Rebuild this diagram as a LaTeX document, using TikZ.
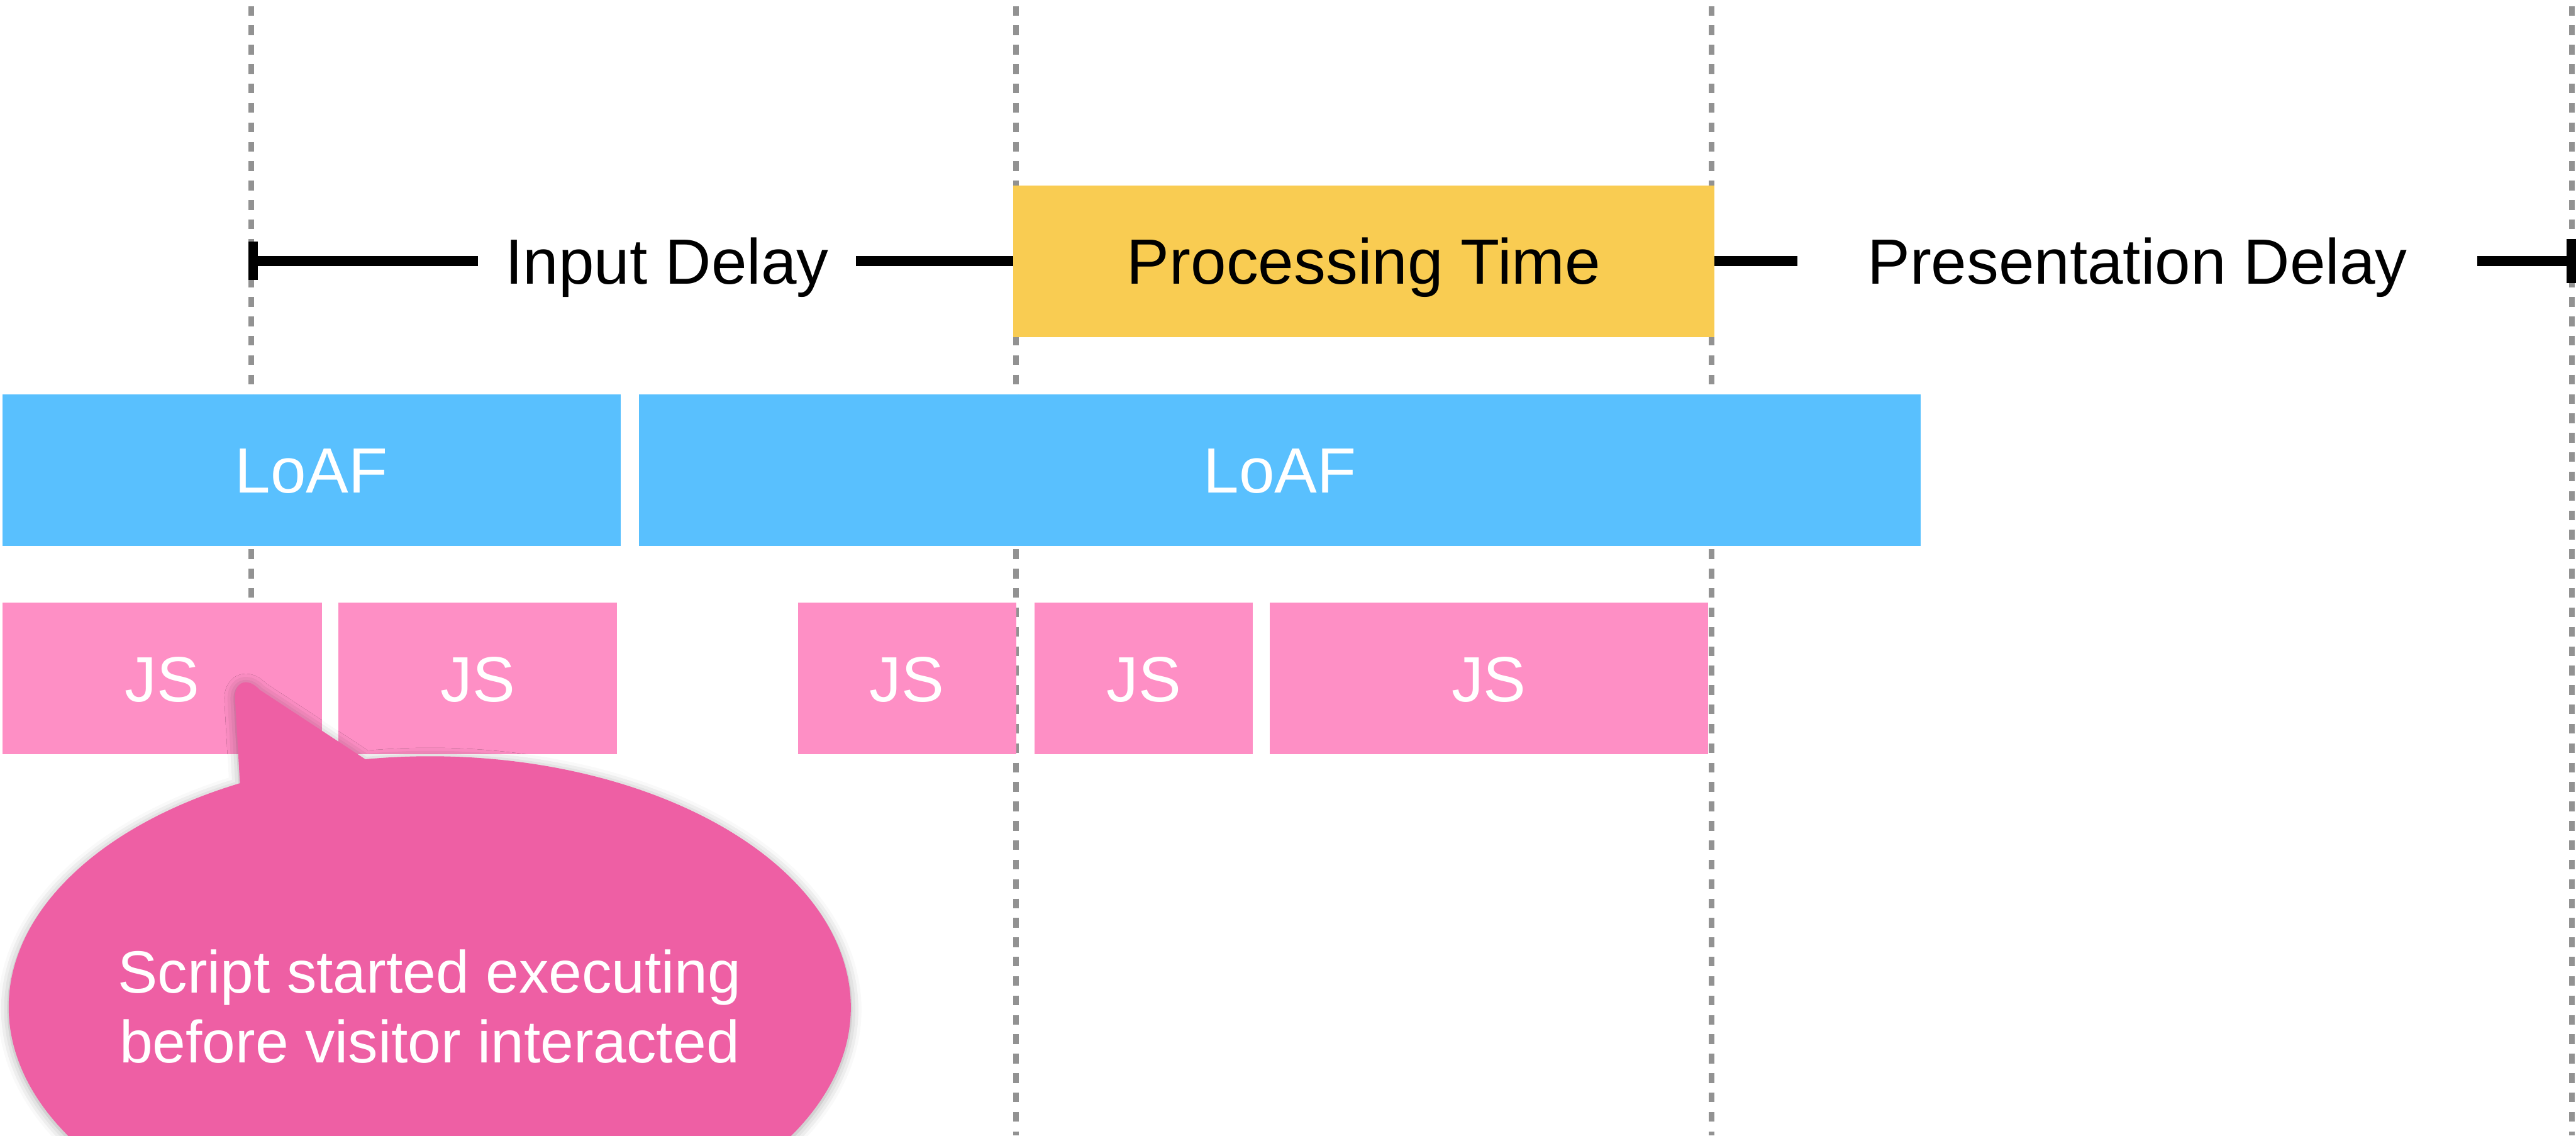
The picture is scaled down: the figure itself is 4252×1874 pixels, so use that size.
\documentclass[tikz,border=0pt]{standalone}
\usepackage{fontspec}
\setmainfont{Liberation Sans}
\usetikzlibrary{shadows.blur}
\definecolor{procY}{HTML}{F9CC52}
\definecolor{loafB}{HTML}{59C0FE}
\definecolor{jsP}{HTML}{FE8FC5}
\definecolor{callP}{HTML}{EE5FA4}
\definecolor{dashG}{HTML}{929292}
\begin{document}
\begin{tikzpicture}[x=0.01cm,y=0.01cm,
  vguide/.style={draw=dashG, line width=0.09cm, dash pattern=on 0.16cm off 0.16cm},
  tbox/.style={inner sep=0pt, outer sep=0pt, minimum height=2.5cm,
    font=\fontsize{30}{36}\selectfont, text height=21.5pt, text depth=0pt},
  loaf/.style={tbox, fill=loafB, text=white},
  jsbox/.style={tbox, fill=jsP, text=white},
  procbox/.style={tbox, fill=procY, text=black},
  lbl/.style={inner ysep=0pt, outer sep=0pt, font=\fontsize{30}{36}\selectfont,
    text height=21.5pt, text depth=0pt},
  tl/.style={line width=0.16cm, line cap=butt, black},
  calltxt/.style={inner sep=0pt, text=white, font=\fontsize{28}{33}\selectfont}
]
\useasboundingbox (0,0) rectangle (4252,-1874);
\clip (0,0) rectangle (4252,-1874);

% guide lines
\draw[vguide] (415,22) -- (415,-1874);
\draw[vguide] (1677,22) -- (1677,-1874);
\draw[vguide] (2825,22) -- (2825,-1874);
\draw[vguide] (4245,22) -- (4245,-1874);

% timeline
\coordinate (tickL) at (410,-431);
\coordinate (tickR) at (4252,-431);
\node[procbox, minimum width=11.56cm] (proc) at (2251,-431) {Processing Time};
\node[lbl, inner xsep=0.45cm] (input) at (1101,-431) {Input Delay};
\node[lbl, inner xsep=1.15cm] (pres) at (3528,-431) {Presentation Delay};
\draw[tl] (tickL) -- (input.west);
\draw[tl] (input.east) -- (input.east -| proc.west);
\draw[tl] (proc.east) -- (proc.east -| pres.west);
\draw[tl] (pres.east) -- (tickR);
\draw[tl] (418,-399) -- (418,-462);
\draw[tl] (4244,-394) -- (4244,-467);

% LoAF row
\node[loaf, minimum width=10.20cm] (loaf1) at (514,-776) {LoAF};
\node[loaf, minimum width=21.15cm] (loaf2) at (2112.5,-776) {LoAF};

% JS row
\node[jsbox, minimum width=5.27cm] (js1) at (267.5,-1120) {JS};
\node[jsbox, minimum width=4.59cm] (js2) at (788.5,-1120) {JS};
\node[jsbox, minimum width=3.60cm] (js3) at (1497,-1120) {JS};
\node[jsbox, minimum width=3.60cm] (js4) at (1888,-1120) {JS};
\node[jsbox, minimum width=7.23cm] (js5) at (2457.5,-1120) {JS};

% callout
\path[fill=callP, blur shadow={shadow xshift=0pt, shadow yshift=-1pt, shadow blur radius=5pt, shadow opacity=35}]
  (396,-1293) -- (388,-1153) .. controls (386,-1126) and (408,-1116) .. (428,-1138)
  -- (603,-1253) arc[start angle=98.8, end angle=-243.2, x radius=695, y radius=414] -- cycle;
\node[calltxt, anchor=base] (note1) at (709,-1639) {Script started executing};
\node[calltxt, anchor=base] (note2) at (709,-1754) {before visitor interacted};
\end{tikzpicture}
\end{document}
